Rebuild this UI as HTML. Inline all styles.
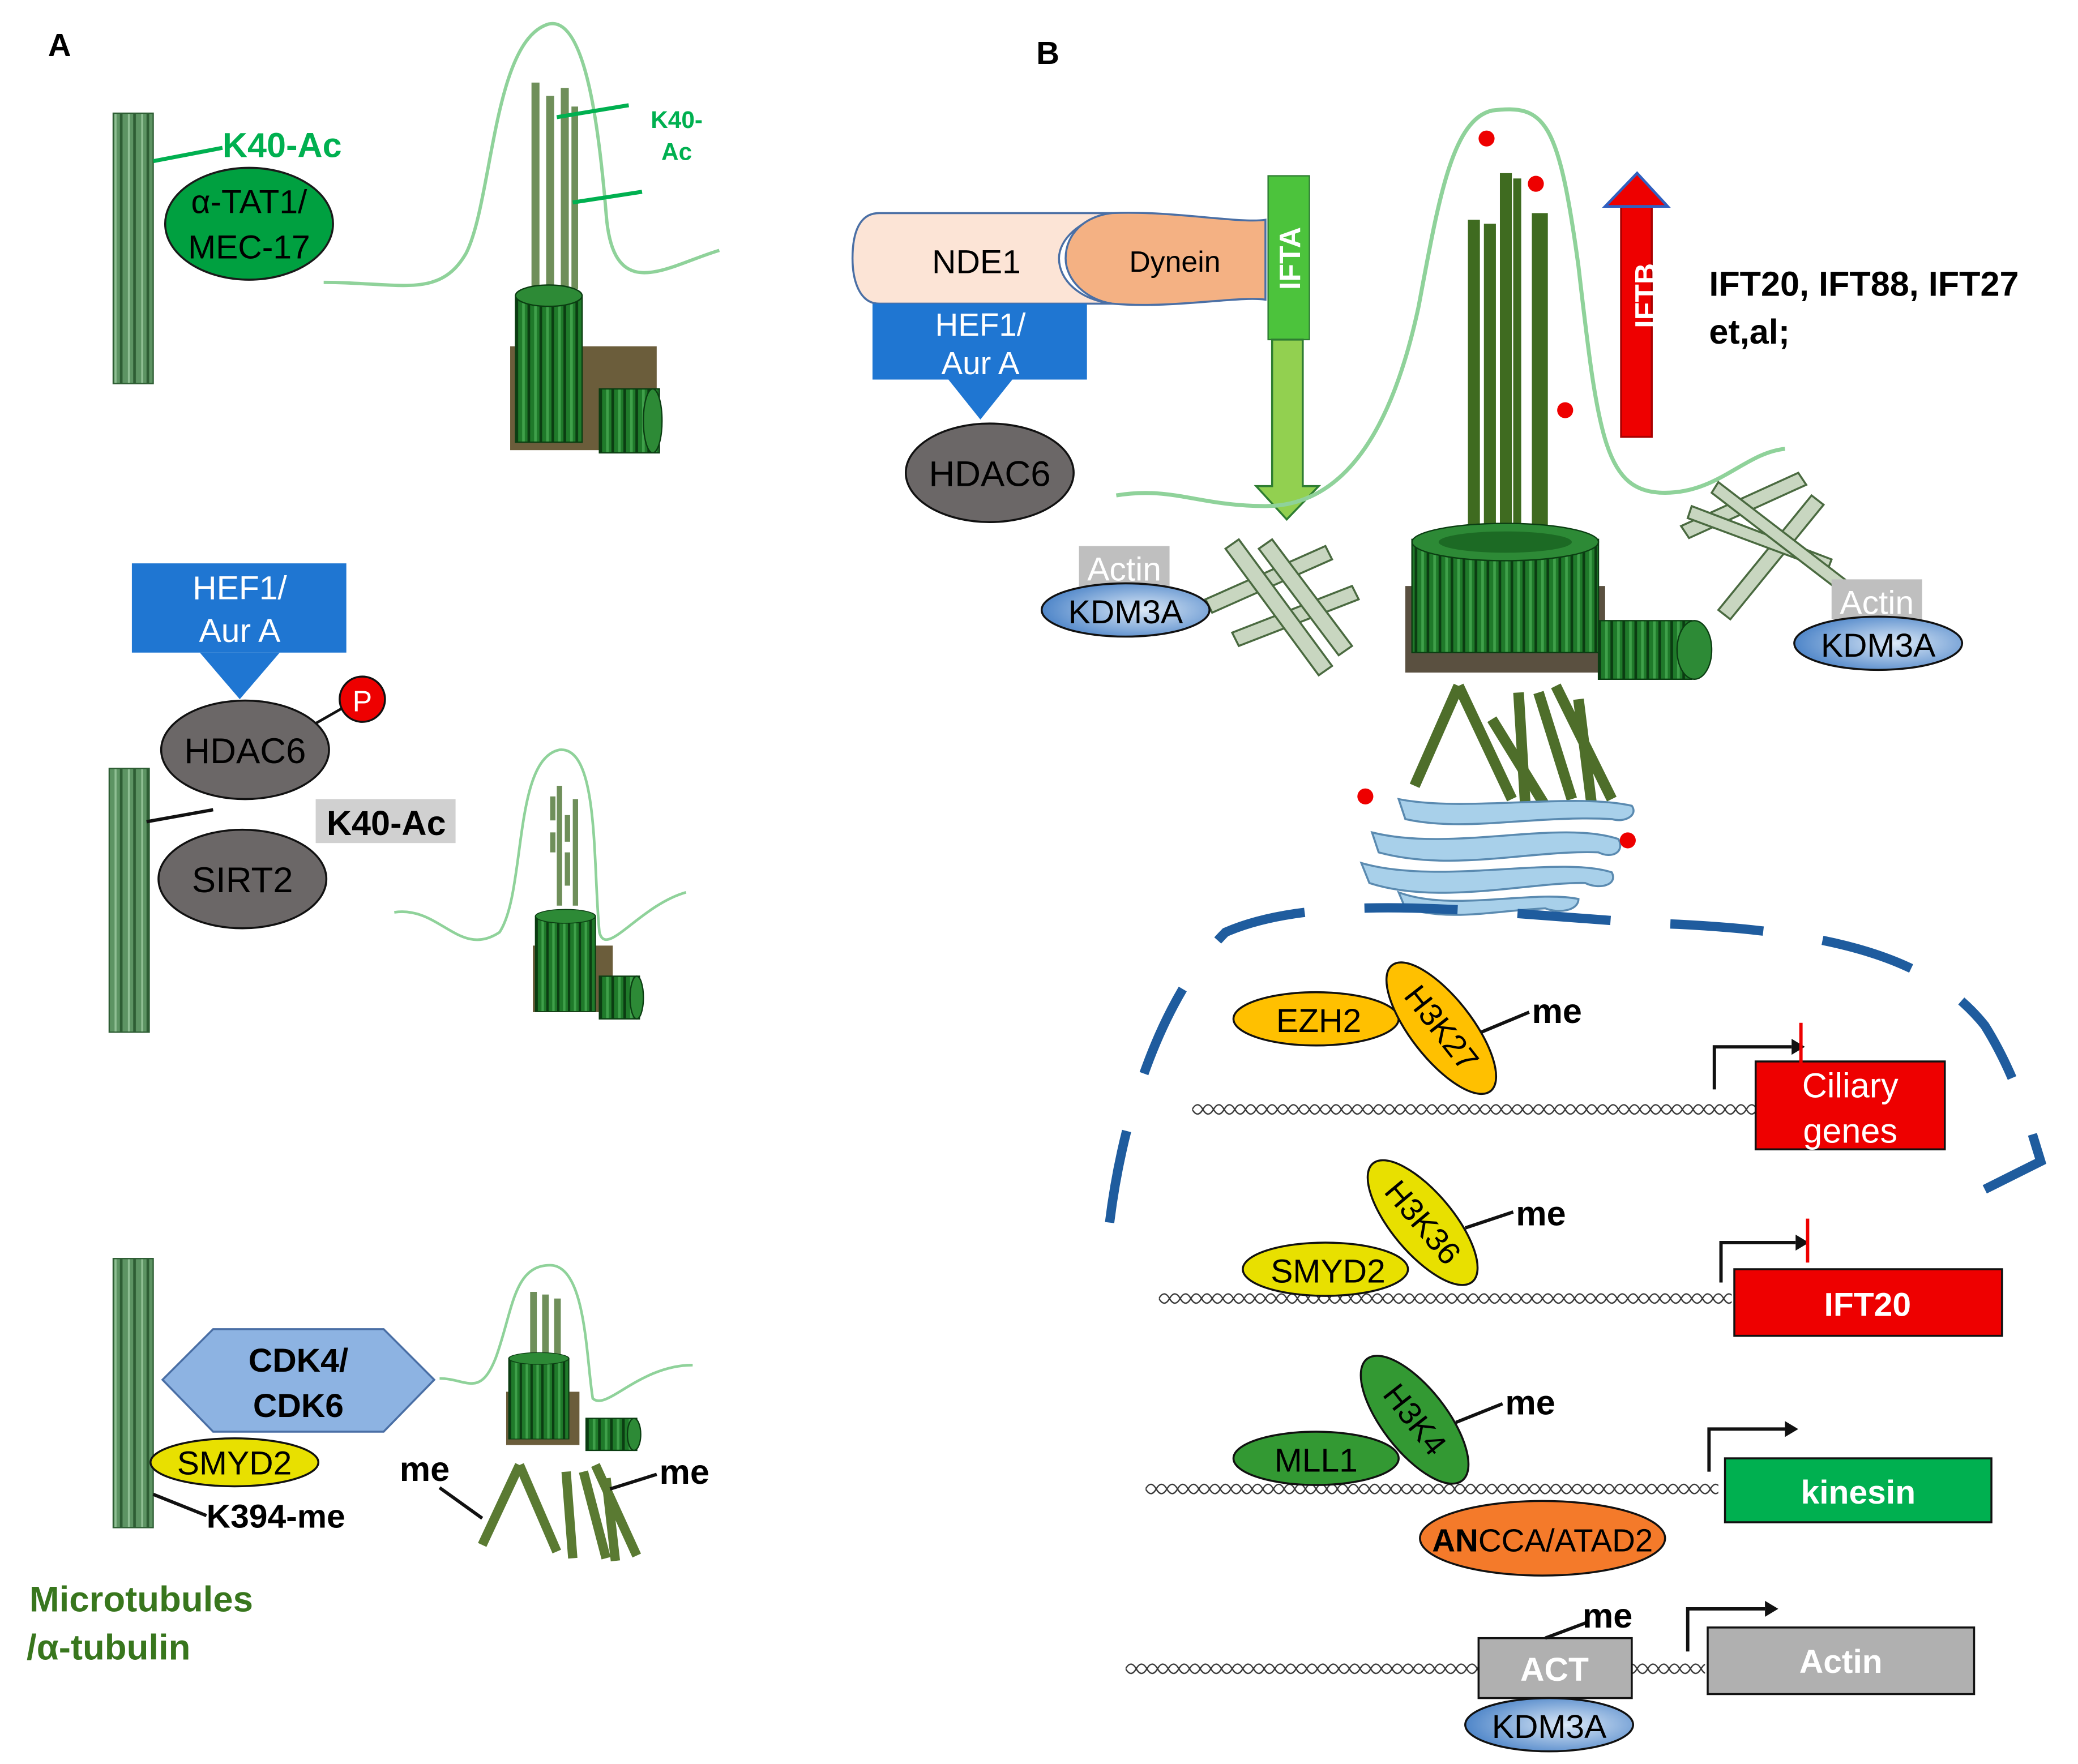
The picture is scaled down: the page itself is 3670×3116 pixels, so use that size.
<!DOCTYPE html>
<html><head><meta charset="utf-8"><style>html,body{margin:0;padding:0;background:#fff}svg{display:block}text{font-family:"Liberation Sans",sans-serif}</style></head><body>
<svg width="3670" height="3116" viewBox="0 0 1560 1324.5" xmlns="http://www.w3.org/2000/svg">
<defs>
<pattern id="dna" x="0" y="0" width="16" height="14" patternUnits="userSpaceOnUse">
<path d="M0 7 Q4 0 8 7 T16 7" fill="none" stroke="#333" stroke-width="1"/>
<path d="M0 7 Q4 14 8 7 T16 7" fill="none" stroke="#333" stroke-width="1"/>
</pattern>
<pattern id="mt" width="10" height="10" patternUnits="userSpaceOnUse">
<rect width="10" height="10" fill="#5d9463"/><rect x="0" width="2" height="10" fill="#2e5e34"/><rect x="6" width="1.5" height="10" fill="#8fbf93"/>
</pattern>
<pattern id="bb" width="9" height="10" patternUnits="userSpaceOnUse">
<rect width="9" height="10" fill="#1f7a2a"/><rect width="2" height="10" fill="#0b3d12"/><rect x="5" width="2" height="10" fill="#3fa04a"/>
</pattern>
<radialGradient id="kdm" cx="0.6" cy="0.5" r="0.6"><stop offset="0" stop-color="#dce9f7"/><stop offset="1" stop-color="#4f86c9"/></radialGradient>
<g id="cyl"><rect x="0" y="0" width="50" height="110" fill="url(#bb)" stroke="#0b3d12"/><ellipse cx="25" cy="0" rx="25" ry="8" fill="#2d8a36" stroke="#0b3d12"/></g>
</defs>

<!-- PANEL A -->
<text x="36" y="42" font-size="24" font-weight="bold">A</text>
<rect x="85" y="85" width="30" height="203" fill="url(#mt)" stroke="#2e5e34"/>
<line x1="115" y1="121" x2="167" y2="111" stroke="#00b050" stroke-width="3"/>
<text x="167" y="118" font-size="26" font-weight="bold" fill="#00b050">K40-Ac</text>
<ellipse cx="187" cy="168" rx="63" ry="42" fill="#00a040" stroke="#1a1a1a" stroke-width="1.5"/>
<text x="187" y="160" font-size="25" text-anchor="middle">α-TAT1/</text>
<text x="187" y="194" font-size="25" text-anchor="middle">MEC-17</text>
<path d="M243 212 C300 212 330 225 350 190 C370 150 370 30 412 18 C440 12 450 100 455 160 C460 230 500 200 540 188" fill="none" stroke="#8fd29a" stroke-width="2.5"/>
<g fill="#6f8f5a"><rect x="399" y="62" width="6" height="155"/><rect x="410" y="72" width="6" height="145"/><rect x="421" y="66" width="6" height="151"/><rect x="429" y="80" width="5" height="137"/></g>
<line x1="418" y1="88" x2="472" y2="79" stroke="#00b050" stroke-width="3"/>
<line x1="430" y1="152" x2="482" y2="144" stroke="#00b050" stroke-width="3"/>
<text x="508" y="96" font-size="18" font-weight="bold" fill="#00b050" text-anchor="middle">K40-</text>
<text x="508" y="120" font-size="18" font-weight="bold" fill="#00b050" text-anchor="middle">Ac</text>
<rect x="383" y="260" width="110" height="78" fill="#6b5d3b"/>
<use href="#cyl" transform="translate(387,222)"/>
<g transform="translate(450,292)"><rect width="45" height="48" fill="url(#bb)" stroke="#0b3d12"/><ellipse cx="40" cy="24" rx="7" ry="24" fill="#2d8a36" stroke="#0b3d12"/></g>

<rect x="99" y="423" width="161" height="67" fill="#1f76d2"/>
<polygon points="150,490 210,490 180,525" fill="#1f76d2"/>
<text x="180" y="450" font-size="25" fill="#fff" text-anchor="middle">HEF1/</text>
<text x="180" y="482" font-size="25" fill="#fff" text-anchor="middle">Aur  A</text>
<line x1="225" y1="550" x2="260" y2="530" stroke="#111" stroke-width="2"/>
<ellipse cx="184" cy="563" rx="63" ry="37" fill="#6b6767" stroke="#111" stroke-width="1.5"/>
<text x="184" y="573" font-size="27" text-anchor="middle">HDAC6</text>
<circle cx="272" cy="525" r="17" fill="#e00" stroke="#111" stroke-width="1.5"/>
<text x="272" y="534" font-size="22" fill="#fff" text-anchor="middle">P</text>
<rect x="82" y="577" width="30" height="198" fill="url(#mt)" stroke="#2e5e34"/>
<line x1="110" y1="617" x2="160" y2="608" stroke="#111" stroke-width="2.5"/>
<rect x="237" y="600" width="105" height="33" fill="#d0d0d0"/>
<text x="290" y="627" font-size="26" font-weight="bold" text-anchor="middle">K40-Ac</text>
<ellipse cx="182" cy="660" rx="63" ry="37" fill="#6b6767" stroke="#111" stroke-width="1.5"/>
<text x="182" y="670" font-size="27" text-anchor="middle">SIRT2</text>
<path d="M296 685 C330 680 345 720 375 700 C395 670 385 570 420 563 C450 560 445 650 450 700 C455 720 480 680 515 670" fill="none" stroke="#8fd29a" stroke-width="2"/>
<g fill="#6f8f5a"><rect x="413" y="598" width="4" height="18"/><rect x="413" y="625" width="4" height="15"/><rect x="418" y="590" width="4" height="90"/><rect x="424" y="612" width="4" height="20"/><rect x="424" y="640" width="4" height="25"/><rect x="430" y="600" width="4" height="80"/></g>
<rect x="400" y="710" width="60" height="50" fill="#6b5d3b"/>
<use href="#cyl" transform="translate(402,688) scale(0.9,0.65)"/>
<g transform="translate(450,733)"><rect width="30" height="32" fill="url(#bb)" stroke="#0b3d12"/><ellipse cx="28" cy="16" rx="5" ry="16" fill="#2d8a36" stroke="#0b3d12"/></g>

<rect x="85" y="945" width="30" height="202" fill="url(#mt)" stroke="#2e5e34"/>
<polygon points="122,1036 160,998 288,998 326,1036 288,1075 160,1075" fill="#8db3e2" stroke="#4a6fa5" stroke-width="1.5"/>
<text x="224" y="1030" font-size="25" font-weight="bold" text-anchor="middle">CDK4/</text>
<text x="224" y="1064" font-size="25" font-weight="bold" text-anchor="middle">CDK6</text>
<ellipse cx="176" cy="1098" rx="63" ry="18" fill="#e8e000" stroke="#111" stroke-width="1.5"/>
<text x="176" y="1107" font-size="25" text-anchor="middle">SMYD2</text>
<line x1="115" y1="1122" x2="155" y2="1138" stroke="#111" stroke-width="2.5"/>
<text x="155" y="1147" font-size="25" font-weight="bold">K394-me</text>
<path d="M330 1035 C350 1035 360 1050 372 1020 C385 985 385 950 413 950 C440 950 440 1020 445 1050 C455 1060 480 1025 520 1025" fill="none" stroke="#8fd29a" stroke-width="2"/>
<g fill="#6f8f5a"><rect x="398" y="970" width="5" height="50"/><rect x="407" y="972" width="5" height="48"/><rect x="416" y="975" width="5" height="45"/></g>
<rect x="380" y="1045" width="55" height="40" fill="#6b5d3b"/>
<use href="#cyl" transform="translate(382,1020) scale(0.9,0.55)"/>
<g transform="translate(440,1065)"><rect width="38" height="24" fill="url(#bb)" stroke="#0b3d12"/><ellipse cx="36" cy="12" rx="5" ry="12" fill="#2d8a36" stroke="#0b3d12"/></g>
<g stroke="#5a7a32" stroke-width="7"><line x1="362" y1="1160" x2="390" y2="1100"/><line x1="390" y1="1100" x2="418" y2="1165"/><line x1="425" y1="1105" x2="430" y2="1170"/><line x1="438" y1="1105" x2="455" y2="1170"/><line x1="447" y1="1100" x2="478" y2="1168"/><line x1="455" y1="1110" x2="462" y2="1172"/></g>
<text x="300" y="1112" font-size="26" font-weight="bold">me</text>
<line x1="330" y1="1117" x2="362" y2="1140" stroke="#111" stroke-width="2.5"/>
<text x="495" y="1114" font-size="26" font-weight="bold">me</text>
<line x1="493" y1="1107" x2="458" y2="1118" stroke="#111" stroke-width="2.5"/>
<text x="22" y="1210" font-size="27" font-weight="bold" fill="#38761d">Microtubules</text>
<text x="20" y="1246" font-size="27" font-weight="bold" fill="#38761d">/α-tubulin</text>

<!-- PANEL B -->
<text x="778" y="48" font-size="24" font-weight="bold">B</text>
<path d="M660 160 L835 160 C810 165 795 180 795 194 C795 210 810 225 835 228 L660 228 C645 228 640 210 640 194 C640 175 645 160 660 160 Z" fill="#fce4d6" stroke="#4a6fa5" stroke-width="1.5"/>
<text x="733" y="205" font-size="25" text-anchor="middle">NDE1</text>
<path d="M835 160 C880 158 930 168 950 165 L950 225 C930 222 880 232 835 228 C815 225 800 210 800 194 C800 175 815 162 835 160 Z" fill="#f4b183" stroke="#4a6fa5" stroke-width="1.5"/>
<text x="882" y="204" font-size="22" text-anchor="middle">Dynein</text>
<rect x="952" y="132" width="31" height="123" fill="#4cc33c" stroke="#2e7d32"/>
<text transform="translate(976,194) rotate(-90)" font-size="22" font-weight="bold" fill="#fff" text-anchor="middle">IFTA</text>
<polygon points="955,255 978,255 978,365 990,365 966,390 943,365 955,365" fill="#92d050" stroke="#2e7d32" stroke-width="1.5"/>
<rect x="655" y="228" width="161" height="57" fill="#1f76d2"/>
<polygon points="712,285 760,285 736,315" fill="#1f76d2"/>
<text x="736" y="252" font-size="24" fill="#fff" text-anchor="middle">HEF1/</text>
<text x="736" y="281" font-size="24" fill="#fff" text-anchor="middle">Aur  A</text>
<ellipse cx="743" cy="355" rx="63" ry="37" fill="#6b6767" stroke="#111" stroke-width="1.5"/>
<text x="743" y="365" font-size="27" text-anchor="middle">HDAC6</text>
<polygon points="1217,328 1240,328 1240,155 1252,155 1229,130 1205,155 1217,155" fill="#ee0000" stroke="#a00" stroke-width="1.5"/>
<polygon points="1205,155 1229,130 1252,155" fill="#ee0000" stroke="#3060c0" stroke-width="2"/>
<text transform="translate(1243,222) rotate(-90)" font-size="22" font-weight="bold" fill="#fff" text-anchor="middle">IFTB</text>
<text x="1283" y="222" font-size="26" font-weight="bold">IFT20, IFT88, IFT27</text>
<text x="1283" y="258" font-size="26" font-weight="bold">et,al;</text>
<path d="M838 372 C880 365 900 380 950 380 C1020 380 1050 300 1065 230 C1080 150 1090 90 1120 83 C1160 78 1170 90 1185 200 C1200 330 1205 370 1250 370 C1290 370 1310 340 1340 337" fill="none" stroke="#8fd29a" stroke-width="3"/>
<circle cx="1116" cy="104" r="6" fill="#e00"/><circle cx="1153" cy="138" r="6" fill="#e00"/><circle cx="1175" cy="308" r="6" fill="#e00"/>
<g fill="#3f6b20"><rect x="1102" y="165" width="9" height="255"/><rect x="1114" y="168" width="9" height="252"/><rect x="1126" y="130" width="9" height="290"/><rect x="1136" y="134" width="6" height="286"/><rect x="1150" y="160" width="12" height="260"/></g>
<rect x="1055" y="440" width="150" height="65" fill="#5a5040"/>
<rect x="1060" y="405" width="140" height="85" fill="url(#bb)" stroke="#0b3d12"/>
<ellipse cx="1130" cy="407" rx="70" ry="14" fill="#2d8a36" stroke="#0b3d12"/>
<ellipse cx="1130" cy="407" rx="50" ry="8" fill="#1c6a24"/>
<g transform="translate(1200,466)"><rect width="70" height="44" fill="url(#bb)" stroke="#0b3d12"/><ellipse cx="72" cy="22" rx="13" ry="22" fill="#2d8a36" stroke="#0b3d12"/></g>
<g fill="#c8d6c0" stroke="#4a6a40" stroke-width="1.5">
<polygon points="905,450 995,410 1000,420 910,460"/><polygon points="925,475 1015,440 1020,450 930,485"/>
<polygon points="930,405 1000,500 990,507 920,412"/><polygon points="955,405 1015,485 1005,492 945,412"/>
<polygon points="1262,395 1350,355 1356,364 1268,404"/><polygon points="1290,458 1360,372 1369,379 1299,465"/>
<polygon points="1270,380 1375,420 1372,428 1267,389"/><polygon points="1290,362 1385,435 1380,443 1285,370"/>
</g>
<rect x="810" y="410" width="68" height="30" fill="#bfbfbf"/>
<text x="844" y="436" font-size="25" fill="#fff" text-anchor="middle">Actin</text>
<ellipse cx="845" cy="458" rx="63" ry="20" fill="url(#kdm)" stroke="#111" stroke-width="1.5"/>
<text x="845" y="468" font-size="25" text-anchor="middle">KDM3A</text>
<rect x="1375" y="435" width="68" height="30" fill="#bfbfbf"/>
<text x="1409" y="461" font-size="25" fill="#fff" text-anchor="middle">Actin</text>
<ellipse cx="1410" cy="483" rx="63" ry="20" fill="url(#kdm)" stroke="#111" stroke-width="1.5"/>
<text x="1410" y="493" font-size="25" text-anchor="middle">KDM3A</text>
<g stroke="#4e6e2a" stroke-width="8"><line x1="1062" y1="590" x2="1095" y2="515"/><line x1="1095" y1="515" x2="1135" y2="600"/><line x1="1140" y1="520" x2="1145" y2="603"/><line x1="1155" y1="520" x2="1180" y2="600"/><line x1="1168" y1="515" x2="1210" y2="600"/><line x1="1185" y1="525" x2="1195" y2="605"/><line x1="1120" y1="540" x2="1160" y2="605"/></g>
<g fill="#a8d0ea" stroke="#5a8ab0" stroke-width="1.5">
<path d="M1050 600 C1100 610 1180 595 1225 605 C1230 612 1220 618 1210 615 C1150 612 1100 625 1055 615 Z"/>
<path d="M1030 625 C1090 640 1170 615 1215 630 C1220 640 1210 645 1200 640 C1150 638 1090 655 1035 640 Z"/>
<path d="M1022 648 C1080 665 1170 642 1210 655 C1215 665 1200 668 1190 663 C1150 662 1080 680 1028 663 Z"/>
<path d="M1050 670 C1090 685 1150 668 1185 675 C1185 684 1170 686 1160 682 C1120 684 1090 692 1055 682 Z"/>
</g>
<circle cx="1025" cy="598" r="6" fill="#e00"/><circle cx="1222" cy="631" r="6" fill="#e00"/>
<path d="M833 918 C845 820 880 740 920 700 C1000 665 1150 690 1260 694 C1380 700 1450 720 1490 770 C1515 810 1525 850 1532 872 L1490 893" fill="none" stroke="#1f5c9e" stroke-width="7" stroke-dasharray="70,45"/>
<!-- DNA strands -->
<g transform="translate(895,826)"><rect width="425" height="14" fill="url(#dna)"/></g>
<g transform="translate(870,968)"><rect width="430" height="14" fill="url(#dna)"/></g>
<g transform="translate(860,1111)"><rect width="430" height="14" fill="url(#dna)"/></g>
<g transform="translate(845,1246)"><rect width="435" height="14" fill="url(#dna)"/></g>
<!-- row 1 -->
<ellipse cx="988" cy="765" rx="62" ry="20" fill="#ffc000" stroke="#111" stroke-width="1.5"/>
<text x="990" y="775" font-size="25" text-anchor="middle">EZH2</text>
<ellipse cx="1082" cy="772" rx="60" ry="23" fill="#ffc000" stroke="#111" stroke-width="1.5" transform="rotate(52 1082 772)"/>
<text transform="translate(1082,772) rotate(52)" font-size="24" text-anchor="middle" y="8">H3K27</text>
<line x1="1112" y1="775" x2="1148" y2="760" stroke="#111" stroke-width="2.5"/>
<text x="1150" y="768" font-size="26" font-weight="bold">me</text>
<rect x="1318" y="797" width="142" height="66" fill="#ee0000" stroke="#111" stroke-width="1.5"/>
<text x="1389" y="824" font-size="26" fill="#fff" text-anchor="middle">Ciliary</text>
<text x="1389" y="858" font-size="26" fill="#fff" text-anchor="middle">genes</text>
<polyline points="1287,818 1287,786 1345,786" fill="none" stroke="#111" stroke-width="2.5"/><polygon points="1345,780 1355,786 1345,792" fill="#111"/>
<line x1="1352" y1="768" x2="1352" y2="798" stroke="#e00" stroke-width="2.5"/>
<!-- row 2 -->
<ellipse cx="995" cy="953" rx="62" ry="20" fill="#e8e000" stroke="#111" stroke-width="1.5"/>
<text x="997" y="963" font-size="25" text-anchor="middle">SMYD2</text>
<ellipse cx="1068" cy="918" rx="58" ry="23" fill="#e8e000" stroke="#111" stroke-width="1.5" transform="rotate(50 1068 918)"/>
<text transform="translate(1068,918) rotate(50)" font-size="24" text-anchor="middle" y="8">H3K36</text>
<line x1="1100" y1="922" x2="1136" y2="910" stroke="#111" stroke-width="2.5"/>
<text x="1138" y="920" font-size="26" font-weight="bold">me</text>
<rect x="1302" y="953" width="201" height="50" fill="#ee0000" stroke="#111" stroke-width="1.5"/>
<text x="1402" y="988" font-size="25" font-weight="bold" fill="#fff" text-anchor="middle">IFT20</text>
<polyline points="1292,963 1292,933 1348,933" fill="none" stroke="#111" stroke-width="2.5"/><polygon points="1348,927 1358,933 1348,939" fill="#111"/>
<line x1="1357" y1="915" x2="1357" y2="948" stroke="#e00" stroke-width="2.5"/>
<!-- row 3 -->
<ellipse cx="988" cy="1095" rx="62" ry="20" fill="#339933" stroke="#111" stroke-width="1.5"/>
<text x="988" y="1105" font-size="25" text-anchor="middle">MLL1</text>
<ellipse cx="1062" cy="1066" rx="58" ry="24" fill="#339933" stroke="#111" stroke-width="1.5" transform="rotate(52 1062 1066)"/>
<text transform="translate(1062,1066) rotate(52)" font-size="24" text-anchor="middle" y="8">H3K4</text>
<line x1="1093" y1="1068" x2="1128" y2="1054" stroke="#111" stroke-width="2.5"/>
<text x="1130" y="1062" font-size="26" font-weight="bold">me</text>
<ellipse cx="1158" cy="1155" rx="92" ry="28" fill="#f47a2a" stroke="#111" stroke-width="1.5"/>
<text x="1158" y="1165" font-size="24" text-anchor="middle"><tspan font-weight="bold">AN</tspan>CCA/ATAD2</text>
<rect x="1295" y="1095" width="200" height="48" fill="#00b050" stroke="#111" stroke-width="1.5"/>
<text x="1395" y="1129" font-size="25" font-weight="bold" fill="#fff" text-anchor="middle">kinesin</text>
<polyline points="1283,1105 1283,1073 1340,1073" fill="none" stroke="#111" stroke-width="2.5"/><polygon points="1340,1067 1350,1073 1340,1079" fill="#111"/>
<!-- row 4 -->
<rect x="1110" y="1230" width="115" height="45" fill="#b0b0b0" stroke="#111" stroke-width="1.5"/>
<text x="1167" y="1262" font-size="25" font-weight="bold" fill="#fff" text-anchor="middle">ACT</text>
<line x1="1160" y1="1230" x2="1192" y2="1218" stroke="#111" stroke-width="2.5"/>
<text x="1188" y="1222" font-size="26" font-weight="bold">me</text>
<ellipse cx="1163" cy="1295" rx="63" ry="20" fill="url(#kdm)" stroke="#111" stroke-width="1.5"/>
<text x="1163" y="1305" font-size="25" text-anchor="middle">KDM3A</text>
<rect x="1282" y="1222" width="200" height="50" fill="#b0b0b0" stroke="#111" stroke-width="1.5"/>
<text x="1382" y="1256" font-size="25" font-weight="bold" fill="#fff" text-anchor="middle">Actin</text>
<polyline points="1267,1240 1267,1208 1325,1208" fill="none" stroke="#111" stroke-width="2.5"/><polygon points="1325,1202 1335,1208 1325,1214" fill="#111"/>
</svg>
</body></html>
